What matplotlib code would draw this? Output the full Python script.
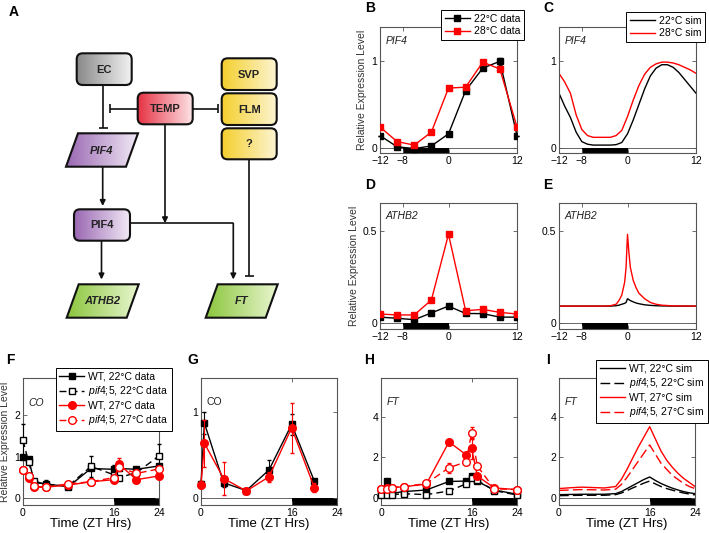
import numpy as np
import matplotlib
matplotlib.use('Agg')
import matplotlib.pyplot as plt
from matplotlib.patches import Rectangle, FancyBboxPatch, Polygon
from matplotlib.colors import to_rgb

plt.rcParams['font.family'] = ['Liberation Sans', 'DejaVu Sans']
plt.rcParams['mathtext.fontset'] = 'custom'
plt.rcParams['mathtext.it'] = 'Liberation Sans:italic'
plt.rcParams['mathtext.rm'] = 'Liberation Sans'

# ---- data -------------------------------------------------------------
# B, D: hours relative to dawn
t_bd = [-12, -9, -6, -3, 0, 3, 6, 9, 12]
pif4_22 = [0.14, 0.01, -0.01, 0.02, 0.16, 0.66, 0.92, 1.0, 0.14]
pif4_28 = [0.24, 0.07, 0.03, 0.18, 0.69, 0.70, 0.99, 0.91, 0.24]
pif4_22_err = [0, 0, 0, 0, 0, 0, 0, 0.04, 0]
athb2_22 = [0.03, 0.024, 0.016, 0.053, 0.09, 0.05, 0.049, 0.03, 0.03]
athb2_28 = [0.047, 0.042, 0.042, 0.123, 0.48, 0.065, 0.072, 0.056, 0.047]

# C: simulated PIF4
t_c = [-12, -11, -10, -9, -8, -7, -6, -5, -4, -3, -2, -1, 0,
       1, 2, 3, 4, 5, 6, 7, 8, 9, 10, 11, 12]
pif4_sim_22 = [0.63, 0.48, 0.35, 0.18, 0.07, 0.04, 0.03, 0.03, 0.03, 0.03, 0.035,
               0.06, 0.16, 0.32, 0.50, 0.68, 0.83, 0.92, 0.96, 0.96, 0.93, 0.87,
               0.79, 0.71, 0.63]
pif4_sim_28 = [0.86, 0.76, 0.63, 0.38, 0.21, 0.14, 0.12, 0.12, 0.12, 0.12, 0.14,
               0.20, 0.36, 0.55, 0.72, 0.85, 0.93, 0.97, 0.99, 0.99, 0.98, 0.96,
               0.93, 0.90, 0.86]

# E: simulated ATHB2
t_e = [-12, -8, -4, -3, -2, -1.5, -1, -0.5, -0.25, 0, 0.25, 0.5, 1, 1.5, 2, 3, 4, 5, 6, 8, 12]
athb2_sim_22 = [0.09, 0.09, 0.09, 0.09, 0.092, 0.095, 0.1, 0.105, 0.11, 0.13, 0.125, 0.12,
                0.113, 0.107, 0.103, 0.097, 0.094, 0.092, 0.091, 0.09, 0.09]
athb2_sim_28 = [0.09, 0.09, 0.09, 0.092, 0.1, 0.12, 0.15, 0.22, 0.3, 0.48, 0.38, 0.3,
                0.23, 0.19, 0.16, 0.13, 0.11, 0.1, 0.095, 0.091, 0.09]

# F: CO data (ZT)
t_f = [0, 1, 2, 4, 8, 12, 16, 17, 20, 24]
co_wt22 = [1.0, 0.95, 0.38, 0.35, 0.28, 0.72, 0.70, 0.72, 0.70, 0.78]
co_pif22 = [1.4, 0.87, 0.42, 0.33, 0.30, 0.77, 0.57, 0.50, 0.62, 1.02]
co_wt27 = [0.68, 0.50, 0.27, 0.27, 0.32, 0.40, 0.45, 0.82, 0.45, 0.54]
co_pif27 = [0.68, 0.54, 0.29, 0.27, 0.35, 0.40, 0.50, 0.75, 0.60, 0.71]
co_wt22_err = [0, 0, 0, 0.1, 0, 0, 0.1, 0, 0, 0]
co_pif22_err = [0.4, 0, 0, 0, 0, 0.25, 0, 0, 0, 0.3]
co_wt27_err = [0, 0, 0, 0, 0, 0, 0, 0.15, 0, 0]

# G: CO data, second set
t_g = [0, 0.6, 4, 8, 12, 16, 20]
co_g_22 = [0.17, 0.875, 0.18, 0.09, 0.33, 0.86, 0.2]
co_g_27 = [0.16, 0.64, 0.23, 0.085, 0.25, 0.82, 0.125]
co_g_22_err = [0.03, 0.13, 0.05, 0.02, 0.12, 0.12, 0.03]
co_g_27_err = [0.04, 0.27, 0.19, 0.02, 0.06, 0.29, 0.05]

# H: FT data
t_h = [0, 1, 2, 4, 8, 12, 15, 16, 17, 20, 24]
ft_wt22 = [0.25, 0.83, 0.22, 0.30, 0.38, 0.80, 0.82, 1.05, 0.80, 0.38, 0.17]
ft_pif22 = [0.15, 0.15, 0.15, 0.20, 0.15, 0.33, 0.68, 0.95, 0.85, 0.35, 0.13]
ft_wt27 = [0.43, 0.50, 0.50, 0.54, 0.67, 2.75, 2.12, 2.43, 1.07, 0.48, 0.40]
ft_pif27 = [0.45, 0.42, 0.50, 0.54, 0.70, 1.48, 1.76, 3.20, 1.56, 0.44, 0.40]
ft_wt27_err = [0, 0, 0, 0, 0, 0, 0, 0.5, 0, 0, 0]
ft_pif27_err = [0, 0, 0, 0, 0, 0.25, 0, 0.3, 0, 0, 0]

# I: FT simulations
t_i = [0, 2, 4, 6, 8, 10, 11, 12, 13, 14, 15, 16, 17, 18, 19, 20, 21, 22, 23, 24]
ft_sim_wt27 = [0.45, 0.49, 0.52, 0.50, 0.48, 0.55, 0.90, 1.40, 1.95, 2.50, 3.00, 3.50,
               2.90, 2.30, 1.85, 1.50, 1.20, 0.95, 0.75, 0.55]
ft_sim_pif27 = [0.36, 0.38, 0.40, 0.39, 0.38, 0.42, 0.65, 1.00, 1.40, 1.80, 2.20, 2.60,
                2.15, 1.70, 1.40, 1.10, 0.90, 0.70, 0.55, 0.45]
ft_sim_wt22 = [0.15, 0.16, 0.17, 0.17, 0.17, 0.20, 0.30, 0.45, 0.60, 0.75, 0.90, 1.02,
               0.85, 0.70, 0.58, 0.47, 0.38, 0.30, 0.24, 0.20]
ft_sim_pif22 = [0.10, 0.11, 0.12, 0.12, 0.12, 0.15, 0.23, 0.35, 0.48, 0.60, 0.72, 0.82,
                0.68, 0.55, 0.45, 0.37, 0.30, 0.23, 0.18, 0.14]

PIF = '$\\it{pif4;\\!5}$'
DEG = '\u00b0C'

W, H = 709, 533
fig = plt.figure(figsize=(7.09, 5.33), dpi=100)
fig.patch.set_facecolor('white')

RED = '#ff0000'
DASH = (0, (5, 3))


def px_axes(l, t, r, b):
    return fig.add_axes([l / W, 1 - b / H, (r - l) / W, (b - t) / H])


def style(ax, xlim, ylim, xt, xtl, yt, ytl, night):
    ax.set_xlim(xlim)
    ax.set_ylim(ylim)
    ax.set_xticks(xt)
    ax.set_xticklabels(xtl)
    ax.set_yticks(yt)
    ax.set_yticklabels(ytl)
    ax.tick_params(direction='in', length=3, width=0.6, labelsize=7.5,
                   top=True, right=True, color='#555555', pad=2)
    for s in ax.spines.values():
        s.set_color('#555555')
        s.set_linewidth(0.8)
    ax.axhline(0, color='#666666', lw=0.7, zorder=1)
    ax.add_patch(Rectangle((night[0], ylim[0]), night[1] - night[0], -ylim[0],
                           facecolor='black', edgecolor='none', zorder=1))


def gene(ax, label, y, italic=True):
    ax.text(0.04, y, label, transform=ax.transAxes, fontsize=7.5,
            style='italic' if italic else 'normal', ha='left', va='center',
            color='#222222')


def legend(ax, x, y):
    lg = ax.legend(loc='upper right', bbox_to_anchor=(x / W, 1 - y / H),
                   bbox_transform=fig.transFigure, fontsize=7.5, frameon=True,
                   fancybox=False, framealpha=1, edgecolor='black',
                   borderpad=0.35, labelspacing=0.25, handlelength=2.4,
                   handletextpad=0.4, borderaxespad=0)
    lg.get_frame().set_linewidth(0.7)
    lg.set_zorder(20)


def errs(ax, t, y, e, color, z):
    ax.errorbar(t, y, yerr=e, fmt='none', ecolor=color, elinewidth=0.8,
                capsize=1.5, zorder=z, clip_on=False)


# ---- panel A: network diagram in pixel coordinates ----------------------
axA = fig.add_axes([0, 0, 1, 1])
axA.set_xlim(0, W)
axA.set_ylim(H, 0)
axA.axis('off')


def grad_shape(patch, x0, x1, y0, y1, c_left, c_right):
    axA.add_patch(patch)
    n = 64
    a = np.linspace(0, 1, n)[:, None]
    img = (1 - a) * np.array(to_rgb(c_left)) + a * np.array(to_rgb(c_right))
    im = axA.imshow(img[None, :, :], extent=(x0, x1, y1, y0), aspect='auto',
                    interpolation='bilinear', zorder=2)
    im.set_clip_path(patch)


def rbox(x0, y0, x1, y1, cl, cr, label, italic=False):
    p = FancyBboxPatch((x0, y0), x1 - x0, y1 - y0,
                       boxstyle='round,pad=0,rounding_size=6',
                       facecolor='none', edgecolor='#111111', lw=1.5, zorder=3)
    grad_shape(p, x0, x1, y0, y1, cl, cr)
    axA.text((x0 + x1) / 2, (y0 + y1) / 2 + 0.5, label, fontsize=8, weight='bold',
             style='italic' if italic else 'normal', ha='center', va='center',
             color='#222222', zorder=4)


def pgram(x0, y0, w, h, skew, cl, cr, label):
    pts = [(x0 + skew, y0), (x0 + skew + w, y0), (x0 + w, y0 + h), (x0, y0 + h)]
    p = Polygon(pts, closed=True, facecolor='none', edgecolor='#111111', lw=1.5,
                zorder=3, joinstyle='miter')
    grad_shape(p, x0, x0 + w + skew, y0, y0 + h, cl, cr)
    axA.text(x0 + (w + skew) / 2, y0 + h / 2 + 0.5, label, fontsize=8,
             weight='bold', style='italic', ha='center', va='center',
             color='#222222', zorder=4)


def line(xs, ys):
    axA.plot(xs, ys, color='#111111', lw=1.2, zorder=2.5, solid_capstyle='butt')


def arrow(x0, y0, x1, y1):
    axA.annotate('', xy=(x1, y1), xytext=(x0, y0),
                 arrowprops=dict(arrowstyle='-|>', color='#111111', lw=1.2,
                                 mutation_scale=8, shrinkA=0, shrinkB=0))


def tbar(x0, y0, x1, y1, half=4.5):
    line([x0, x1], [y0, y1])
    if x0 == x1:
        line([x1 - half, x1 + half], [y1, y1])
    else:
        line([x1, x1], [y1 - half, y1 + half])


GREY = ('#8a8a8a', '#f2f2f2')
REDC = ('#e63446', '#fde3e6')
YEL = ('#f4cf2e', '#fdf5d2')
PUR = ('#9a68b2', '#f1e8f6')
GRN = ('#8cc63e', '#e8f6cf')

tbar(103.3, 85, 103.3, 127.7)
tbar(137.7, 108.5, 110, 108.5)
tbar(192.7, 108.5, 218.3, 108.5)
arrow(165, 124.3, 165, 223.3)
arrow(102.7, 166.7, 102.7, 206)
line([130, 233.3], [223.3, 223.3])
arrow(233.3, 223.3, 233.3, 279.5)
tbar(249, 159.3, 249, 276)
arrow(101.5, 240.7, 101.5, 279.5)

rbox(76.7, 53.3, 131.7, 85, *GREY, 'EC')
rbox(137.7, 92.7, 192.7, 124.3, *REDC, 'TEMP')
rbox(221.7, 58.3, 276.7, 90, *YEL, 'SVP')
rbox(221.7, 93.3, 276.7, 125, *YEL, 'FLM')
rbox(221.7, 128.3, 276.7, 159.3, *YEL, '?')
pgram(66, 133.3, 60, 33.4, 12, *PUR, 'PIF4')
rbox(74, 209.3, 130, 240.7, *PUR, 'PIF4')
pgram(66.7, 284.3, 60, 33.4, 12, *GRN, 'ATHB2')
pgram(205.7, 284.3, 60, 33.4, 12, *GRN, 'FT')
axA.set_xlim(0, W)
axA.set_ylim(H, 0)

# panel letters
for lab, x, y in [('A', 14, 12), ('B', 370, 8), ('C', 548, 8), ('D', 370, 185),
                  ('E', 548, 185), ('F', 10, 360), ('G', 193, 360),
                  ('H', 369, 360), ('I', 548, 360)]:
    axA.text(x, y, lab, fontsize=10, weight='bold', ha='center', va='center')

xt_bd = [-12, -8, 0, 12]
xtl_bd = ['\u221212', '\u22128', '0', '12']
xt_zt = [0, 16, 24]
xtl_zt = ['0', '16', '24']

# ---- B ------------------------------------------------------------------
axB = px_axes(380, 26.7, 517, 153.3)
style(axB, (-12, 12), (-0.065, 1.4), xt_bd, xtl_bd, [0, 1], ['0', '1'], (-8, 0))
errs(axB, t_bd, pif4_22, pif4_22_err, 'black', 2.9)
axB.plot(t_bd, pif4_22, color='black', marker='s', ms=5, lw=1.0,
         label='22' + DEG + ' data', zorder=3)
axB.plot(t_bd, pif4_28, color=RED, marker='s', ms=5, lw=1.0,
         label='28' + DEG + ' data', zorder=4)
gene(axB, 'PIF4', 0.89)
axB.set_ylabel('Relative Expression Level', fontsize=7.5, labelpad=3, color='#333333')
legend(axB, 524, 10)

# ---- C ------------------------------------------------------------------
axC = px_axes(559, 26.7, 696, 153.3)
style(axC, (-12, 12), (-0.065, 1.4), xt_bd, xtl_bd, [0, 1], ['0', '1'], (-8, 0))
axC.plot(t_c, pif4_sim_22, color='black', lw=1.0, label='22' + DEG + ' sim')
axC.plot(t_c, pif4_sim_28, color=RED, lw=1.0, label='28' + DEG + ' sim')
gene(axC, 'PIF4', 0.89)
legend(axC, 705, 12)

# ---- D ------------------------------------------------------------------
axD = px_axes(380, 203, 517, 329.3)
style(axD, (-12, 12), (-0.036, 0.65), xt_bd, xtl_bd, [0, 0.5], ['0', '0.5'], (-8, 0))
axD.plot(t_bd, athb2_22, color='black', marker='s', ms=5, lw=1.0, zorder=3)
axD.plot(t_bd, athb2_28, color=RED, marker='s', ms=5, lw=1.0, zorder=4)
gene(axD, 'ATHB2', 0.9)
axD.set_ylabel('Relative Expression Level', fontsize=7.5, labelpad=3, color='#333333')

# ---- E ------------------------------------------------------------------
axE = px_axes(559, 203, 696, 329.3)
style(axE, (-12, 12), (-0.036, 0.65), xt_bd, xtl_bd, [0, 0.5], ['0', '0.5'], (-8, 0))
axE.plot(t_e, athb2_sim_22, color='black', lw=1.0)
axE.plot(t_e, athb2_sim_28, color=RED, lw=1.0)
gene(axE, 'ATHB2', 0.9)

# ---- F ------------------------------------------------------------------
axF = px_axes(23, 378, 159, 505)
style(axF, (0, 24), (-0.16, 2.9), xt_zt, xtl_zt, [0, 1, 2], ['0', '1', '2'], (16, 24))
errs(axF, t_f, co_wt22, co_wt22_err, 'black', 2.9)
errs(axF, t_f, co_pif22, co_pif22_err, 'black', 3.9)
errs(axF, t_f, co_wt27, co_wt27_err, RED, 4.9)
axF.plot(t_f, co_wt22, color='black', marker='s', ms=5, lw=1.0, clip_on=False,
         label='WT, 22' + DEG + ' data', zorder=3)
axF.plot(t_f, co_pif22, color='black', marker='s', ms=5, mfc='white', ls=DASH,
         lw=1.0, clip_on=False, label=PIF + ', 22' + DEG + ' data', zorder=4)
axF.plot(t_f, co_wt27, color=RED, marker='o', ms=5.5, lw=1.0, clip_on=False,
         label='WT, 27' + DEG + ' data', zorder=5)
axF.plot(t_f, co_pif27, color=RED, marker='o', ms=5.5, mfc='white', ls=DASH,
         lw=1.0, clip_on=False, label=PIF + ', 27' + DEG + ' data', zorder=6)
gene(axF, 'CO', 0.805)
axF.set_ylabel('Relative Expression Level', fontsize=7.5, labelpad=3, color='#333333')
axF.set_xlabel('Time (ZT Hrs)', fontsize=9.5, labelpad=0.5)
legend(axF, 172, 368)

# ---- G ------------------------------------------------------------------
axG = px_axes(201, 378, 337, 505)
style(axG, (0, 24), (-0.078, 1.4), xt_zt, xtl_zt, [0, 1], ['0', '1'], (16, 24))
errs(axG, t_g, co_g_22, co_g_22_err, 'black', 2.9)
errs(axG, t_g, co_g_27, co_g_27_err, RED, 3.9)
axG.plot(t_g, co_g_22, color='black', marker='s', ms=5, lw=1.0, clip_on=False, zorder=3)
axG.plot(t_g, co_g_27, color=RED, marker='o', ms=5.5, lw=1.0, clip_on=False, zorder=4)
gene(axG, 'CO', 0.81, italic=False)
axG.set_xlabel('Time (ZT Hrs)', fontsize=9.5, labelpad=0.5)

# ---- H ------------------------------------------------------------------
axH = px_axes(381, 378, 517, 505)
style(axH, (0, 24), (-0.36, 5.9), xt_zt, xtl_zt, [0, 2, 4], ['0', '2', '4'], (16, 24))
errs(axH, t_h, ft_wt27, ft_wt27_err, RED, 4.9)
errs(axH, t_h, ft_pif27, ft_pif27_err, RED, 5.9)
axH.plot(t_h, ft_wt22, color='black', marker='s', ms=5, lw=1.0, zorder=3, clip_on=False)
axH.plot(t_h, ft_pif22, color='black', marker='s', ms=5, mfc='white', ls=DASH,
         lw=1.0, zorder=4, clip_on=False)
axH.plot(t_h, ft_wt27, color=RED, marker='o', ms=5.5, lw=1.0, zorder=5, clip_on=False)
axH.plot(t_h, ft_pif27, color=RED, marker='o', ms=5.5, mfc='white', ls=DASH,
         lw=1.0, zorder=6, clip_on=False)
gene(axH, 'FT', 0.81)
axH.set_xlabel('Time (ZT Hrs)', fontsize=9.5, labelpad=0.5)

# ---- I ------------------------------------------------------------------
axI = px_axes(559, 378, 695, 505)
style(axI, (0, 24), (-0.36, 5.9), xt_zt, xtl_zt, [0, 2, 4], ['0', '2', '4'], (16, 24))
axI.plot(t_i, ft_sim_wt22, color='black', lw=1.0, label='WT, 22' + DEG + ' sim')
axI.plot(t_i, ft_sim_pif22, color='black', lw=1.0, ls=(0, (7, 3)),
         label=PIF + ', 22' + DEG + ' sim')
axI.plot(t_i, ft_sim_wt27, color=RED, lw=1.0, label='WT, 27' + DEG + ' sim')
axI.plot(t_i, ft_sim_pif27, color=RED, lw=1.0, ls=(0, (7, 3)),
         label=PIF + ', 27' + DEG + ' sim')
gene(axI, 'FT', 0.81)
axI.set_xlabel('Time (ZT Hrs)', fontsize=9.5, labelpad=0.5)
legend(axI, 708, 360)

fig.savefig('out.png', dpi=100)
